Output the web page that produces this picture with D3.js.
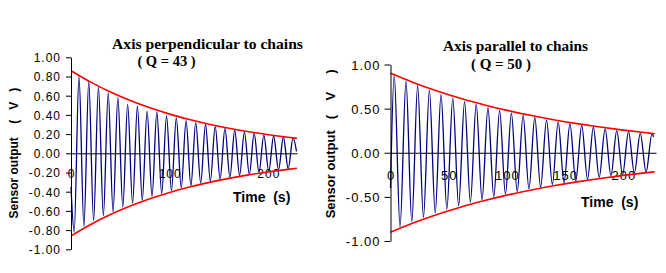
<!DOCTYPE html>
<html>
<head>
<meta charset="utf-8">
<script src="https://cdn.jsdelivr.net/npm/d3@7"></script>
<style>
  body { margin:0; background:#fff; }
  svg { display:block; }
  .tick text, .lbl { font-family: "Liberation Sans", Arial, sans-serif; fill:#000; }
  .ttl { font-family: "Liberation Serif", "Times New Roman", serif; font-weight:bold; fill:#000; }
</style>
</head>
<body>
<svg id="chart" width="666" height="273"></svg>
<script>
// ---- left panel : axis perpendicular to chains (Q = 43)
var leftTicksY = [-1, -0.8, -0.6, -0.4, -0.2, 0, 0.2, 0.4, 0.6, 0.8, 1];
var leftTicksX = [0, 100, 200];
var leftTime = [0, 3.2, 8.1, 13.1, 18.0, 22.9, 27.8, 32.8, 37.7, 42.6, 47.5, 52.5, 57.4, 62.4, 67.3, 72.2, 77.1, 82.1, 87.0, 91.9,
  96.8, 101.8, 106.7, 111.7, 116.6, 121.5, 126.4, 131.4, 136.3, 141.2, 146.1, 151.1, 156.0, 161.0, 165.9, 170.8, 175.7, 180.7,
  185.6, 190.5, 195.4, 200.4, 205.3, 210.3, 215.2, 220.1, 225.0, 228.5];
var leftSignal = [-0.35, -0.82, 0.80, -0.76, 0.75, -0.70, 0.69, -0.65, 0.63, -0.61, 0.58, -0.56, 0.51, -0.52, 0.49, -0.49, 0.44, -0.45, 0.43, -0.42,
  0.39, -0.39, 0.37, -0.36, 0.34, -0.34, 0.32, -0.31, 0.30, -0.29, 0.28, -0.27, 0.26, -0.25, 0.24, -0.23, 0.22, -0.22,
  0.21, -0.20, 0.19, -0.19, 0.18, -0.17, 0.17, -0.16, 0.16, 0.02];
var leftEnvTime = [0, 20, 40, 60, 80, 100, 120, 140, 160, 180, 200, 220, 229];
var leftEnvAmp  = [0.860, 0.741, 0.638, 0.550, 0.474, 0.408, 0.352, 0.303, 0.261, 0.225, 0.194, 0.167, 0.156];

// ---- right panel : axis parallel to chains (Q = 50)
var rightTicksY = [-1, -0.5, 0, 0.5, 1];
var rightTicksX = [0, 50, 100, 150, 200];
var rightTime = [0, 3.2, 8.2, 13.3, 18.3, 23.3, 28.3, 33.4, 38.4, 43.4, 48.4, 53.5, 58.5, 63.6, 68.6, 73.6, 78.6, 83.7, 88.7, 93.7,
  98.7, 103.8, 108.8, 113.9, 118.9, 123.9, 128.9, 134.0, 139.0, 144.0, 149.0, 154.1, 159.1, 164.2, 169.2, 174.2, 179.2,
  184.3, 189.3, 194.3, 199.3, 204.4, 209.4, 214.5, 219.5, 224.5, 226];
var rightSignal = [-0.40, 0.88, -0.84, 0.81, -0.78, 0.76, -0.73, 0.71, -0.68, 0.66, -0.64, 0.62, -0.60, 0.58, -0.56, 0.55, -0.53, 0.51, -0.50, 0.48,
  -0.47, 0.45, -0.44, 0.42, -0.41, 0.40, -0.39, 0.37, -0.36, 0.35, -0.34, 0.33, -0.32, 0.31, -0.30, 0.29, -0.28,
  0.27, -0.26, 0.25, -0.25, 0.24, -0.23, 0.22, -0.22, 0.21, 0.18];
var rightEnvTime = [0, 20, 40, 60, 80, 100, 120, 140, 160, 180, 200, 220, 227];
var rightEnvAmp  = [0.900, 0.794, 0.700, 0.617, 0.545, 0.480, 0.424, 0.374, 0.330, 0.291, 0.256, 0.226, 0.216];

var svg = d3.select("#chart");
svg.append("rect").attr("width", 666).attr("height", 273).attr("fill", "#fff");

function drawPanel(p){
  var x = d3.scaleLinear().domain(p.xDom).range(p.xRange);
  var y = d3.scaleLinear().domain([-1, 1]).range(p.yRange);
  var g = svg.append("g");

  // blue signal
  var sig = p.time.map(function(t, i){ return [t, p.signal[i]]; });
  var line = d3.line().x(function(d){ return x(d[0]); }).y(function(d){ return y(d[1]); })
    .curve(d3.curveMonotoneX);
  g.append("path").datum(sig)
    .attr("fill", "none").attr("stroke", "#000080").attr("stroke-width", 1.3)
    .attr("stroke-linejoin", "round").attr("d", line);

  // zero line + x labels
  var xAxis = g.append("g")
    .attr("transform", "translate(0," + y(0) + ")")
    .call(d3.axisBottom(x).tickValues(p.ticksX).tickSize(0).tickFormat(function(d){ return d; }));
  xAxis.select(".domain").attr("stroke", "#000").attr("stroke-width", 1);
  xAxis.selectAll("text").attr("dy", null).attr("y", p.xLblOff)
    .style("font-size", p.fs + "px").style("letter-spacing", "1px");

  // red envelope, upper and lower
  var env = p.envT.map(function(t, i){ return [t, p.envA[i]]; });
  var envLow = p.envT.map(function(t, i){ return [t, -p.envA[i]]; });
  [env, envLow].forEach(function(e){
    g.append("path").datum(e)
      .attr("fill", "none").attr("stroke", "#ff0000").attr("stroke-width", 1.6)
      .attr("d", line);
  });

  // y axis
  var yAxis = g.append("g")
    .attr("transform", "translate(" + x(0) + ",0)")
    .call(d3.axisLeft(y).tickValues(p.ticksY).tickSizeInner(p.tick).tickSizeOuter(0).tickPadding(p.pad)
      .tickFormat(function(d){ return d.toFixed(2); }));
  yAxis.select(".domain").attr("stroke", "#000");
  yAxis.selectAll(".tick line").attr("stroke", "#000");
  yAxis.selectAll("text").attr("dy", "0.36em")
    .style("font-size", p.fs + "px").style("letter-spacing", "1px");

  // titles
  svg.append("text").attr("class", "ttl").attr("x", p.t1[0]).attr("y", p.t1[1])
    .attr("text-anchor", "middle").style("font-size", p.tfs + "px").text(p.title);
  svg.append("text").attr("class", "ttl").attr("x", p.t2[0]).attr("y", p.t2[1])
    .attr("text-anchor", "middle").style("font-size", p.qfs + "px").style("white-space", "pre").text(p.q);

  // axis titles
  svg.append("text").attr("class", "lbl")
    .attr("transform", "translate(" + p.yl[0] + "," + p.yl[1] + ") rotate(-90)")
    .style("font-size", p.ylfs + "px").style("font-weight", "bold").style("white-space", "pre")
    .text(p.ylText);
  svg.append("text").attr("class", "lbl").attr("x", p.xl[0]).attr("y", p.xl[1])
    .style("font-size", "14px").style("font-weight", "bold").style("white-space", "pre")
    .text("Time  (s)");
}

drawPanel({
  xDom: [0, 229], xRange: [71, 297], yRange: [249.3, 57.3],
  time: leftTime, signal: leftSignal, envT: leftEnvTime, envA: leftEnvAmp,
  ticksY: leftTicksY, ticksX: leftTicksX, fs: 12, tick: 5, pad: 5, xLblOff: 25,
  title: "Axis perpendicular to chains", q: "( Q = 43 )", t1: [207.5, 48.5], t2: [166.5, 65.5], tfs: 15.6, qfs: 14.5,
  yl: [18, 218.5], ylfs: 12, ylText: "Sensor output    (   V   )", xl: [233, 201.5]
});

drawPanel({
  xDom: [0, 228], xRange: [390.5, 656], yRange: [241, 64.5],
  time: rightTime, signal: rightSignal, envT: rightEnvTime, envA: rightEnvAmp,
  ticksY: rightTicksY, ticksX: rightTicksX, fs: 13, tick: 6, pad: 4, xLblOff: 27,
  title: "Axis parallel to chains", q: "( Q = 50 )", t1: [515.5, 50.5], t2: [501, 69], tfs: 15.3, qfs: 15,
  yl: [335, 218.3], ylfs: 13, ylText: "Sensor output   (    V     )", xl: [581, 206.5]
});
</script>
</body>
</html>
